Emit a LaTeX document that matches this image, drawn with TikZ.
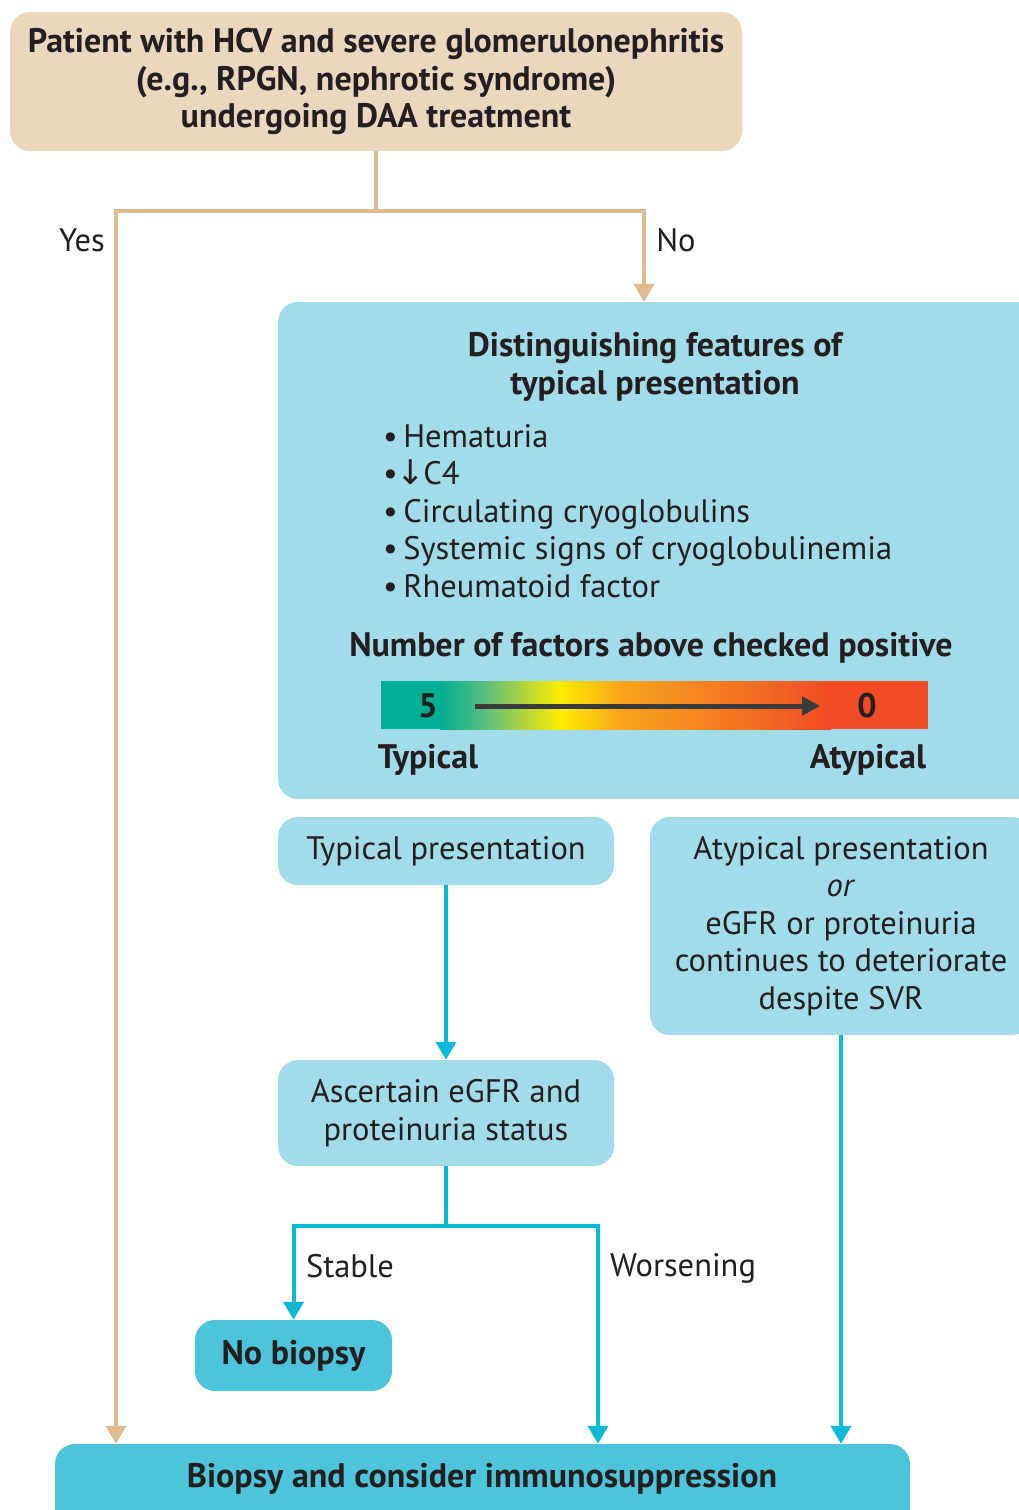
\documentclass[tikz,border=0pt]{standalone}
\usepackage{fontspec}
\setmainfont{PT Sans}
\newfontfamily\symfont{DejaVu Sans}
\usetikzlibrary{arrows.meta}
\definecolor{tanfill}{HTML}{EBD7BD}
\definecolor{tanline}{HTML}{DDBA8F}
\definecolor{lightblue}{HTML}{A2DCEA}
\definecolor{darkblue}{HTML}{4EC4DB}
\definecolor{cyanline}{HTML}{0EB9D6}
\definecolor{txt}{HTML}{231F20}
\definecolor{barline}{HTML}{3A3A3A}
\definecolor{cA}{HTML}{00AE94}
\definecolor{cB}{HTML}{5BBE7E}
\definecolor{cC}{HTML}{FFED00}
\definecolor{cD}{HTML}{F8A51C}
\definecolor{cE}{HTML}{F26A24}
\definecolor{cF}{HTML}{EF4B24}
\begin{document}
\begin{tikzpicture}[x=1pt,y=-1pt,
  every node/.style={text=txt, font=\fontsize{32.5}{37.5}\selectfont, inner sep=0pt},
  tanbox/.style={fill=tanfill, rounded corners=20pt, align=center},
  lbox/.style={fill=lightblue, rounded corners=20pt, align=center},
  dbox/.style={fill=darkblue, rounded corners=20pt, align=center, font=\fontsize{34}{37.5}\selectfont\bfseries},
  tanline/.style={draw=tanline, line width=4},
  tanarrow/.style={tanline, -{Triangle[width=20,length=18]}},
  cyline/.style={draw=cyanline, line width=4},
  cyarrow/.style={cyline, -{Triangle[width=20,length=18]}},
  bold/.style={font=\fontsize{34}{37.5}\selectfont\bfseries}
]
\useasboundingbox (0,0) rectangle (1019,1510);
\clip (0,0) rectangle (1019,1510);
\fill[white] (0,0) rectangle (1019,1510);

% top box
\node[tanbox, bold, minimum width=732, minimum height=139] (top) at (376,81.5)
  {Patient with HCV and severe glomerulonephritis\\(e.g., RPGN, nephrotic syndrome)\\undergoing DAA treatment};

% big blue box
\node[lbox, minimum width=770, minimum height=497] (big) at (663,550.5) {};
\node[bold, align=center] (bigtitle) at (655,367) {Distinguishing features of\\typical presentation};
\node[anchor=north west, align=left] (bullets) at (383,424)
  {•\,Hematuria\\•{\symfont\fontsize{34}{37.5}\selectfont\kern-1pt↓\kern-2pt}C4\\•\,Circulating cryoglobulins\\•\,Systemic signs of cryoglobulinemia\\•\,Rheumatoid factor};
\node[bold] (numf) at (651,648) {Number of factors above checked positive};

% gradient bar
\fill[cA] (381,681) rectangle (441,729);
\shade[left color=cA, right color=cB] (440,681) rectangle (486,729);
\shade[left color=cB, right color=cC] (485,681) rectangle (561,729);
\shade[left color=cC, right color=cD] (560,681) rectangle (621,729);
\shade[left color=cD, right color=cE] (620,681) rectangle (761,729);
\shade[left color=cE, right color=cF] (760,681) rectangle (831,729);
\fill[cF] (830,681) rectangle (928,729);
\node[bold] (five) at (428,706) {5};
\node[bold] (zero) at (867,706) {0};
\draw[draw=barline, line width=5, shorten <=37, shorten >=37, -{Triangle[width=18,length=18]}] (five) -- (zero);
\node[bold] (typl) at (428,760) {Typical};
\node[bold] (atypl) at (868,760) {Atypical};

% presentation boxes
\node[lbox, minimum width=336, minimum height=68] (typ) at (446,851) {Typical presentation};
\node[lbox, minimum width=382, minimum height=218] (atyp) at (841,926)
  {Atypical presentation\\\textit{or}\\eGFR or proteinuria\\continues to deteriorate\\despite SVR};
\node[lbox, minimum width=336, minimum height=106] (asc) at (446,1113) {Ascertain eGFR and\\proteinuria status};
\node[dbox, minimum width=197, minimum height=71] (nob) at (293.5,1355.5) {No biopsy};
\node[dbox, minimum width=855, minimum height=130] (bottom) at (482.5,1509) {};
\node[bold] (bottomtxt) at (482,1479) {Biopsy and consider immunosuppression};

% labels
\node (yes) at (82,240) {Yes};
\node (no) at (676,240) {No};
\node (stable) at (350,1266) {Stable};
\node (wors) at (683,1268) {Worsening};

% connectors
\coordinate (split) at (376,211);
\coordinate (yesx) at (116,0);
\coordinate (nox) at (644,0);
\draw[tanline] (top.south) -- (split);
\draw[tanarrow] (split) -| (bottom.north -| yesx);
\draw[tanarrow] (split) -| (big.north -| nox);

\draw[cyarrow] (typ.south) -- (asc.north);
\coordinate (split2) at (446,1226);
\coordinate (worsx) at (598,0);
\draw[cyline] (asc.south) -- (split2);
\draw[cyarrow] (split2) -| (nob.north);
\draw[cyarrow] (split2) -| (bottom.north -| worsx);
\draw[cyarrow] (atyp.south) -- (atyp.south |- bottom.north);
\end{tikzpicture}
\end{document}
